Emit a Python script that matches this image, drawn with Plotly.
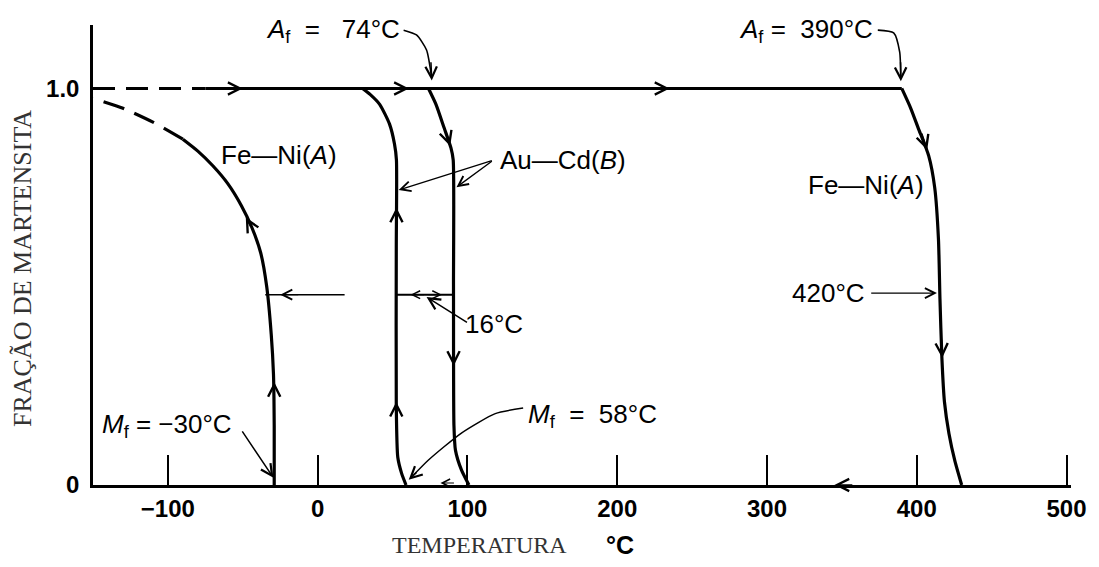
import plotly.graph_objects as go

# ---------------- data (temperature in °C, martensite fraction) ----------------
tick_vals = [-100, 0, 100, 200, 300, 400, 500]
tick_text = ["−100", "0", "100", "200", "300", "400", "500"]

# top plateau (fraction = 1.0)
top_dash_T = [-150, -75]
top_dash_f = [1.0, 1.0]
top_solid_T = [-75, 390]
top_solid_f = [1.0, 1.0]

# Fe-Ni (A) cooling curve
feni_cool_T = [-29, -29, -29.5, -31, -34, -38, -44, -51, -60, -70, -80, -90]
feni_cool_f = [0.0, 0.15, 0.28, 0.38, 0.50, 0.585, 0.65, 0.705, 0.76, 0.805, 0.842, 0.872]
feni_cool_dash_T = [-90, -110, -130, -150]
feni_cool_dash_f = [0.872, 0.915, 0.950, 0.975]

# Au-Cd (B) cooling branch (left) and heating branch (right)
aucd_cool_T = [59, 56, 53.5, 52.5, 52.5, 52.6, 51.3, 48, 41.4, 35, 30]
aucd_cool_f = [0.0, 0.03, 0.07, 0.2, 0.6, 0.82, 0.86, 0.91, 0.96, 0.985, 1.0]
aucd_heat_T = [74, 79, 84.5, 89, 90.5, 90.7, 91, 92, 96, 101]
aucd_heat_f = [1.0, 0.96, 0.90, 0.85, 0.82, 0.5, 0.15, 0.088, 0.038, 0.0]

# Fe-Ni (A) heating curve
feni_heat_T = [390, 396, 401, 408, 412, 414.5, 415.5, 416.8, 418.5, 421.5, 425.5, 430]
feni_heat_f = [1.0, 0.95, 0.90, 0.83, 0.75, 0.62, 0.47, 0.32, 0.21, 0.13, 0.06, 0.0]

# 50 % reference segments
feni_half_T = [-35, 18]
feni_half_f = [0.48, 0.48]
aucd_half_T = [52.5, 90.6]
aucd_half_f = [0.48, 0.48]

# ---------------- figure ----------------
fig = go.Figure()
LW = 3.2

def line(x, y, width=LW, dash=None, shape="spline"):
    fig.add_trace(go.Scatter(x=x, y=y, mode="lines", hoverinfo="skip",
                             line=dict(color="black", width=width, dash=dash,
                                       shape=shape, smoothing=0.6)))

line(top_dash_T, top_dash_f, width=3, dash="22px,11px", shape="linear")
line(top_solid_T, top_solid_f, width=3, shape="linear")
line(feni_cool_T, feni_cool_f)
line(feni_cool_dash_T, feni_cool_dash_f, dash="22px,11px")
line(aucd_cool_T, aucd_cool_f)
line(aucd_heat_T, aucd_heat_f)
line(feni_heat_T, feni_heat_f)
line(feni_half_T, feni_half_f, width=1.5, shape="linear")
line(aucd_half_T, aucd_half_f, width=2, shape="linear")

annotations = []

def arrow(tip, tail, width=1.6, size=1.5, head=5):
    annotations.append(dict(x=tip[0], y=tip[1], ax=tail[0], ay=tail[1],
                            xref="x", yref="y", axref="x", ayref="y",
                            text="", showarrow=True, arrowhead=head,
                            arrowsize=size, arrowwidth=width,
                            arrowcolor="black", standoff=0, startstandoff=0))

# direction arrows on curves
arrow((-50, 1.0), (-62, 1.0))
arrow((61, 1.0), (49, 1.0))
arrow((235, 1.0), (222, 1.0))
arrow((-48, 0.675), (-44, 0.648))
arrow((-29, 0.26), (-29, 0.21))
arrow((52.6, 0.70), (52.6, 0.65))
arrow((52.5, 0.21), (52.5, 0.16))
arrow((88.5, 0.855), (85.5, 0.89))
arrow((90.8, 0.30), (90.7, 0.35))
arrow((407, 0.845), (403, 0.89))
arrow((417, 0.32), (416.5, 0.37))
arrow((345, 0.0), (358, 0.0))
arrow((82, 0.005), (92, 0.005), width=1.2, size=1.3)
arrow((-25, 0.48), (-12, 0.48), width=1.3)
arrow((62, 0.48), (72, 0.48), width=1.2, size=1.3)
arrow((83, 0.48), (73, 0.48), width=1.2, size=1.3)

# label leader arrows
arrow((-29.5, 0.018), (-51, 0.139), width=1.5)
arrow((72.7, 0.474), (100.7, 0.408), width=1.5)
arrow((54.1, 0.744), (117.3, 0.819), width=1.3)
arrow((92.7, 0.751), (117.3, 0.819), width=1.3)
arrow((413.5, 0.484), (368.6, 0.484), width=1.3)

# curved leaders
line([57.4, 66, 72.7, 76], [1.147, 1.135, 1.097, 1.03], width=1.6)
arrow((76.2, 1.02), (75.6, 1.07), width=1.5)
line([374, 384.6, 388.6, 389.3], [1.147, 1.14, 1.092, 1.03], width=1.6)
arrow((389.4, 1.018), (389.2, 1.07), width=1.5)
line([137.2, 118.6, 96, 74, 64], [0.194, 0.18, 0.131, 0.063, 0.025], width=1.5)
arrow((60.8, 0.013), (67, 0.035), width=1.5)

FONT = "Liberation Sans, Arial, sans-serif"
NB = "\u00a0"

def label(x, y, text, anchor="center", size=26):
    annotations.append(dict(x=x, y=y, xref="x", yref="y", text=text,
                            showarrow=False, xanchor=anchor, yanchor="middle",
                            font=dict(family=FONT, size=size, color="black")))

label(56, 1.147, f"<i>A</i><sub>f</sub>{NB}{NB}={NB}{NB}{NB}74°C", anchor="right")
label(372, 1.147, f"<i>A</i><sub>f</sub>{NB}={NB}{NB}390°C", anchor="right")
label(-25.7, 0.832, "Fe—Ni(<i>A</i>)")
label(120.6, 0.82, "Au—Cd(<i>B</i>)", anchor="left")
label(366, 0.756, "Fe—Ni(<i>A</i>)")
label(366.6, 0.484, "420°C", anchor="right")
label(97.3, 0.405, "16°C", anchor="left")
label(-145.3, 0.151, "<i>M</i><sub>f</sub> = −30°C", anchor="left")
label(139.2, 0.176, f"<i>M</i><sub>f</sub>{NB}{NB}={NB}{NB}58°C", anchor="left")

# axis titles
annotations.append(dict(x=-0.0713, y=0.47, xref="paper", yref="paper",
                        xanchor="center", yanchor="middle",
                        text="FRAÇÃO DE MARTENSITA", textangle=-90, showarrow=False,
                        font=dict(family="Liberation Serif, Times New Roman, serif",
                                  size=26, color="#333333")))
annotations.append(dict(x=0.395, y=-0.130, xref="paper", yref="paper",
                        xanchor="center", yanchor="middle",
                        text="TEMPERATURA", showarrow=False,
                        font=dict(family="Liberation Serif, Times New Roman, serif",
                                  size=24, color="#333333")))
annotations.append(dict(x=0.539, y=-0.130, xref="paper", yref="paper",
                        xanchor="center", yanchor="middle",
                        text="°C", showarrow=False,
                        font=dict(family=FONT, size=25, color="black", weight="bold")))

fig.update_layout(
    width=1099, height=567,
    margin=dict(l=93, r=24, t=25, b=82),
    paper_bgcolor="white", plot_bgcolor="white",
    showlegend=False,
    annotations=annotations,
    xaxis=dict(range=[-150, 503], showgrid=False, zeroline=False,
               showline=True, linecolor="black", linewidth=2.5,
               tickmode="array", tickvals=tick_vals, ticktext=tick_text,
               ticks="inside", ticklen=30, tickwidth=2, tickcolor="black",
               ticklabelstandoff=0,
               tickfont=dict(family=FONT, size=24, color="black", weight="bold")),
    yaxis=dict(range=[0, 1.16], showgrid=False, zeroline=False,
               showline=True, linecolor="black", linewidth=2.5,
               tickmode="array", tickvals=[0, 1.0], ticktext=["0", "1.0"],
               ticks="", ticklabelstandoff=6,
               tickfont=dict(family=FONT, size=24, color="black", weight="bold")),
)

fig.write_html("out.html")
